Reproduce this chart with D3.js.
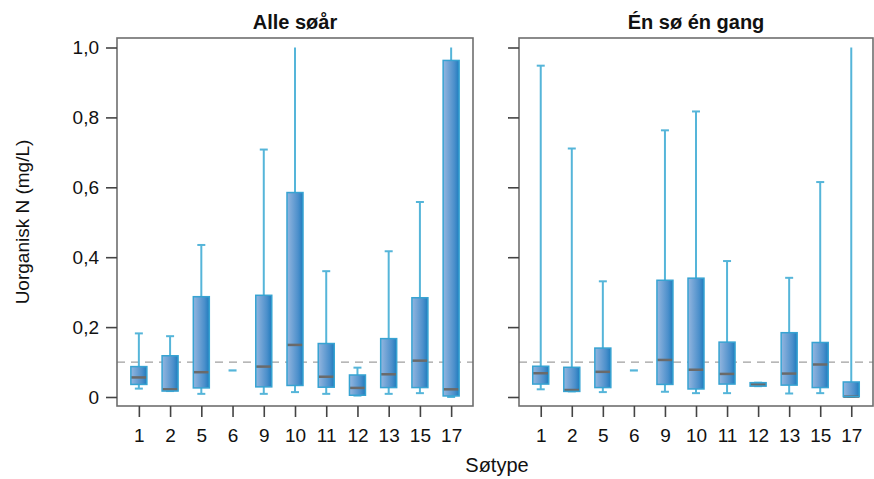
<!DOCTYPE html>
<html>
<head>
<meta charset="utf-8">
<script src="https://cdn.jsdelivr.net/npm/d3@7"></script>
<style>
  body { margin: 0; background: #fff; }
  svg { font-family: "Liberation Sans", Arial, sans-serif; }
</style>
</head>
<body>
<svg id="chart" width="874" height="479"></svg>
<script>
// lake types on the x axis
var categories = ["1", "2", "5", "6", "9", "10", "11", "12", "13", "15", "17"];
var yTicks = [0, 0.2, 0.4, 0.6, 0.8, 1.0];
var panelTitles = ["Alle søår", "Én sø én gang"];
var refLine = 0.1;

// Alle søår
var allLo  = [0.024, 0.017, 0.009, 0.076, 0.009, 0.014, 0.009, 0.004, 0.009, 0.011, 0.000];
var allQ1  = [0.036, 0.017, 0.026, 0.076, 0.029, 0.033, 0.028, 0.005, 0.027, 0.027, 0.003];
var allMed = [0.056, 0.022, 0.071, 0.076, 0.087, 0.149, 0.058, 0.026, 0.065, 0.104, 0.022];
var allQ3  = [0.087, 0.118, 0.287, 0.076, 0.291, 0.585, 0.153, 0.063, 0.167, 0.284, 0.963];
var allHi  = [0.182, 0.174, 0.435, 0.076, 0.708, 1.000, 0.360, 0.084, 0.417, 0.558, 1.000];

// Én sø én gang
var oneLo  = [0.022, 0.016, 0.014, 0.076, 0.015, 0.011, 0.011, 0.031, 0.010, 0.011, 0.000];
var oneQ1  = [0.037, 0.016, 0.027, 0.076, 0.036, 0.023, 0.037, 0.031, 0.034, 0.027, 0.001];
var oneMed = [0.068, 0.020, 0.072, 0.076, 0.106, 0.078, 0.066, 0.036, 0.067, 0.093, 0.001];
var oneQ3  = [0.088, 0.085, 0.140, 0.076, 0.334, 0.340, 0.157, 0.041, 0.184, 0.156, 0.043];
var oneHi  = [0.948, 0.711, 0.331, 0.076, 0.763, 0.817, 0.389, 0.041, 0.341, 0.615, 1.000];

function rows(lo, q1, med, q3, hi) {
  return categories.map(function(c, i) {
    return {cat: c, lo: lo[i], q1: q1[i], med: med[i], q3: q3[i], hi: hi[i]};
  });
}
var panels = [
  {title: panelTitles[0], x0: 117, x1: 473, data: rows(allLo, allQ1, allMed, allQ3, allHi)},
  {title: panelTitles[1], x0: 519, x1: 873, data: rows(oneLo, oneQ1, oneMed, oneQ3, oneHi)}
];

var svg = d3.select("#chart"),
    frameTop = 38, frameBottom = 406,
    boxW = 16, capW = 8,
    boxStroke = "#37a3d2", whiskerCol = "#55b5d9", medianCol = "#6a6a6a";

var y = d3.scaleLinear().domain([0, 1]).range([397, 47.5]);

var locale = d3.formatLocale({decimal: ",", thousands: ".", grouping: [3], currency: ["", ""]});
var f1 = locale.format(".1f");

// box fill gradient, light on the left and darker on the right
var grad = svg.append("defs").append("linearGradient")
    .attr("id", "boxfill").attr("x1", "0%").attr("x2", "100%");
grad.append("stop").attr("offset", "0%").attr("stop-color", "#94b6df");
grad.append("stop").attr("offset", "70%").attr("stop-color", "#4b8fcb");
grad.append("stop").attr("offset", "100%").attr("stop-color", "#1f7bbd");

panels.forEach(function(p, pi) {
  var x = d3.scalePoint().domain(categories).range([p.x0, p.x1]).padding(0.7);
  var g = svg.append("g");

  // reference line
  g.append("line")
    .attr("x1", p.x0).attr("x2", p.x1)
    .attr("y1", y(refLine)).attr("y2", y(refLine))
    .attr("stroke", "#a0a0a0").attr("stroke-width", 1.3)
    .attr("stroke-dasharray", "8,6");

  var box = g.selectAll(".box").data(p.data).enter().append("g")
    .attr("transform", function(d) { return "translate(" + x(d.cat) + ",0)"; });

  var multi = box.filter(function(d) { return d.hi > d.lo; });
  var single = box.filter(function(d) { return d.hi === d.lo; });

  // whiskers
  multi.append("line")
    .attr("y1", function(d) { return y(d.q3); }).attr("y2", function(d) { return y(d.hi); })
    .attr("stroke", whiskerCol).attr("stroke-width", 2);
  multi.append("line")
    .attr("y1", function(d) { return y(d.q1); }).attr("y2", function(d) { return y(d.lo); })
    .attr("stroke", whiskerCol).attr("stroke-width", 2);
  ["hi", "lo"].forEach(function(k) {
    multi.filter(function(d) { return k === "hi" ? d.hi < 1 : true; })
      .append("line")
      .attr("x1", -capW / 2).attr("x2", capW / 2)
      .attr("y1", function(d) { return y(d[k]); }).attr("y2", function(d) { return y(d[k]); })
      .attr("stroke", whiskerCol).attr("stroke-width", 2);
  });

  // box body
  multi.append("rect")
    .attr("x", -boxW / 2).attr("width", boxW)
    .attr("y", function(d) { return y(d.q3); })
    .attr("height", function(d) { return y(d.q1) - y(d.q3); })
    .attr("fill", "url(#boxfill)");
  multi.append("line")
    .attr("x1", -boxW / 2).attr("x2", boxW / 2)
    .attr("y1", function(d) { return y(d.med); }).attr("y2", function(d) { return y(d.med); })
    .attr("stroke", medianCol).attr("stroke-width", 2.5);
  multi.append("rect")
    .attr("x", -boxW / 2).attr("width", boxW)
    .attr("y", function(d) { return y(d.q3); })
    .attr("height", function(d) { return y(d.q1) - y(d.q3); })
    .attr("fill", "none").attr("stroke", boxStroke).attr("stroke-width", 1.5);

  // only one value
  single.append("line")
    .attr("x1", -capW / 2).attr("x2", capW / 2)
    .attr("y1", function(d) { return y(d.med); }).attr("y2", function(d) { return y(d.med); })
    .attr("stroke", whiskerCol).attr("stroke-width", 2.2);

  // frame
  g.append("rect")
    .attr("x", p.x0).attr("y", frameTop)
    .attr("width", p.x1 - p.x0).attr("height", frameBottom - frameTop)
    .attr("fill", "none").attr("stroke", "#6e6e6e").attr("stroke-width", 1.6);

  // x axis
  var xa = g.append("g")
    .attr("transform", "translate(0," + frameBottom + ")")
    .call(d3.axisBottom(x).tickSize(11).tickPadding(12));
  xa.select(".domain").remove();
  xa.selectAll("line").attr("stroke", "#444").attr("stroke-width", 1.6);
  xa.selectAll("text").attr("font-size", 19).attr("fill", "#111")
    .attr("font-family", "Liberation Sans, Arial, sans-serif");

  // y axis
  var ya = g.append("g")
    .attr("transform", "translate(" + p.x0 + ",0)")
    .call(d3.axisLeft(y).tickValues(yTicks).tickSize(11).tickPadding(7)
      .tickFormat(function(d) { return d === 0 ? "0" : f1(d); }));
  ya.select(".domain").remove();
  ya.selectAll("line").attr("stroke", "#444").attr("stroke-width", 1.6);
  ya.selectAll("text").attr("font-size", 19).attr("fill", "#111")
    .attr("font-family", "Liberation Sans, Arial, sans-serif");
  if (pi > 0) ya.selectAll("text").remove();

  // panel title
  g.append("text")
    .attr("x", (p.x0 + p.x1) / 2).attr("y", 29)
    .attr("text-anchor", "middle")
    .attr("font-size", 20).attr("font-weight", "bold").attr("fill", "#111")
    .text(p.title);
});

svg.append("text")
  .attr("transform", "translate(29,222) rotate(-90)")
  .attr("text-anchor", "middle")
  .attr("font-size", 19).attr("fill", "#111")
  .text("Uorganisk N (mg/L)");

svg.append("text")
  .attr("x", 497).attr("y", 472)
  .attr("text-anchor", "middle")
  .attr("font-size", 20).attr("fill", "#111")
  .text("Søtype");
</script>
</body>
</html>
